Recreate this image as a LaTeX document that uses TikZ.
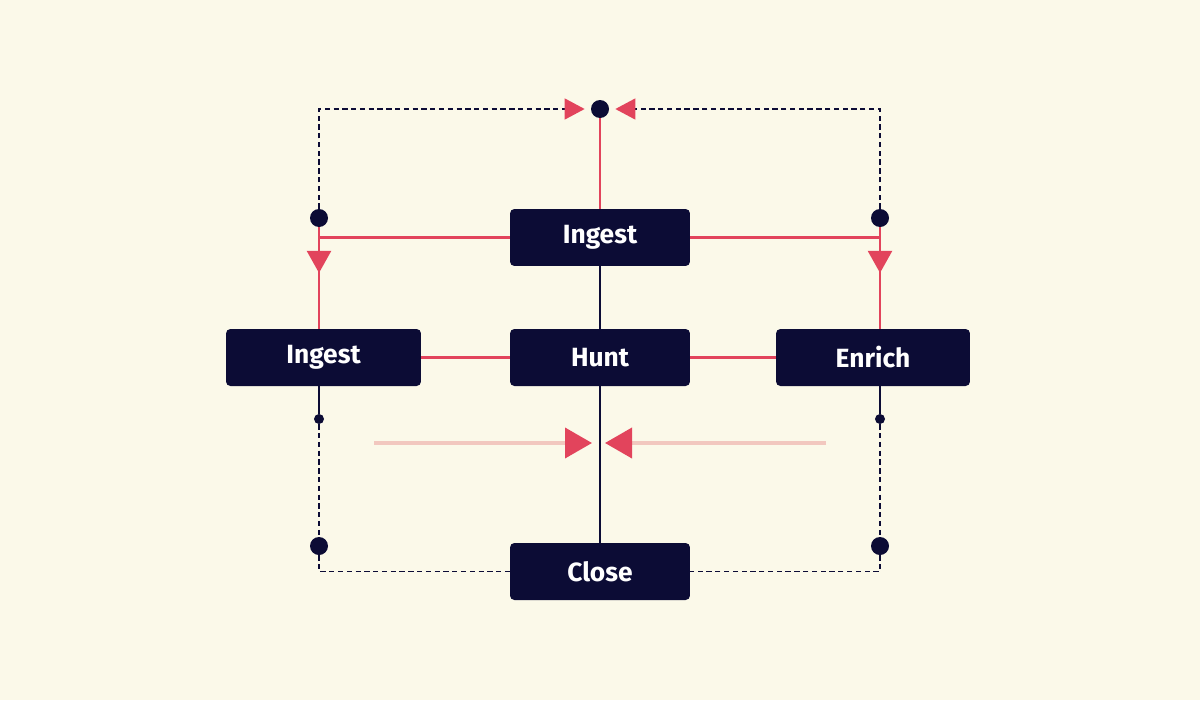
\documentclass[tikz,border=0pt]{standalone}
\usepackage{fontspec}
\setmainfont{Fira Sans}
\usetikzlibrary{arrows.meta,decorations.markings}
\definecolor{paper}{HTML}{FBF9E9}
\definecolor{navy}{HTML}{0C0C35}
\definecolor{accent}{HTML}{E2445C}
\definecolor{blush}{HTML}{F2C8BF}
\begin{document}
\begin{tikzpicture}[x=0.02cm, y=-0.02cm,
  stage/.style={fill=navy, rounded corners=2.5pt, minimum width=3.6cm, minimum height=1.14cm,
    inner sep=0pt, text=white, font=\fontsize{15}{18}\selectfont\bfseries},
  dot/.style={circle, fill=navy, inner sep=0pt, minimum size=0.36cm},
  tick/.style={circle, fill=navy, inner sep=0pt, minimum size=0.2cm},
  redline/.style={accent, line width=1.3pt},
  navyline/.style={navy, line width=1.6pt},
  dashline/.style={navy, line width=0.8pt, dash pattern=on 3pt off 2pt},
  paleline/.style={blush, line width=2.2pt},
  tri/.style={-{Triangle[length=0.4cm, width=0.42cm, color=accent]}, shorten >=0.12cm},
  bigtri/.style={-{Triangle[length=0.54cm, width=0.6cm, color=accent]}},
  midtri/.style={postaction={decorate, decoration={markings,
    mark=at position 0.45 with {\arrow{Triangle[length=0.44cm, width=0.48cm, color=accent]}}}}}]
  \fill[paper] (0,0) rectangle (1200,700);
  % boxes
  \node[stage] (ingtop) at (600,237.5) {Ingest};
  \node[stage] (hunt) at (600,357.5) {Hunt};
  \node[stage, minimum width=3.9cm] (ingest) at (323.5,357.5) {Ingest};
  \node[stage, minimum width=3.88cm] (enrich) at (873,357.5) {Enrich};
  \node[stage] (close) at (600,571.5) {Close};
  % dots
  \node[dot] (top) at (600,109) {};
  \node[dot] (ldot) at (319,218) {};
  \node[dot] (rdot) at (880,218) {};
  \node[tick] (ltick) at (319,419) {};
  \node[tick] (rtick) at (880,419) {};
  \node[dot] (lbot) at (319,546) {};
  \node[dot] (rbot) at (880,546) {};
  % top loop
  \draw[dashline, tri] (ldot) |- (top.west);
  \draw[dashline, tri] (rdot) |- (top.east);
  \draw[redline] (top) -- (ingtop);
  \draw[redline] (ingtop.west) -- (ingtop.west -| ldot);
  \draw[redline] (ingtop.east) -- (ingtop.east -| rdot);
  \draw[redline, midtri] (ldot) -- (ldot |- ingest.north);
  \draw[redline, midtri] (rdot) -- (rdot |- enrich.north);
  % middle row
  \draw[redline] (ingest) -- (hunt);
  \draw[redline] (hunt) -- (enrich);
  \draw[navyline] (ingtop) -- (hunt);
  \draw[navyline] (hunt) -- (close);
  % bottom loop
  \draw[navyline] (ingest.south -| ltick) -- (ltick);
  \draw[navyline] (enrich.south -| rtick) -- (rtick);
  \draw[dashline] (ltick) -- (lbot);
  \draw[dashline] (rtick) -- (rbot);
  \draw[dashline] (lbot) |- (close.west);
  \draw[dashline] (rbot) |- (close.east);
  % converging arrows
  \coordinate (pl) at (374,443);
  \coordinate (pr) at (826,443);
  \coordinate (ml) at (592,443);
  \coordinate (mr) at (605,443);
  \draw[paleline, bigtri] (pl) -- (ml);
  \draw[paleline, bigtri] (pr) -- (mr);
\end{tikzpicture}
\end{document}
